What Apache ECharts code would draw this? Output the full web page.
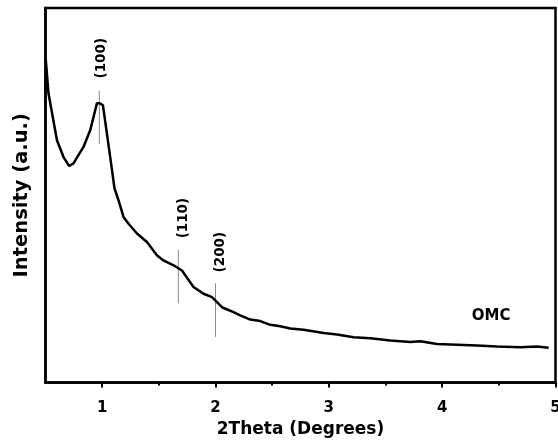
<!DOCTYPE html>
<html>
<head>
<meta charset="utf-8">
<script src="https://cdn.jsdelivr.net/npm/echarts@6/dist/echarts.min.js"></script>
<style>
html,body{margin:0;padding:0;background:#fff;}
#c{width:558px;height:441px;}
</style>
</head>
<body>
<div id="c"></div>
<script>
// 2Theta (degrees)
var twoTheta = [0.503,0.526,0.601,0.659,0.709,0.747,0.835,0.895,0.954,0.983,1.007,1.071,1.109,1.144,1.188,1.233,1.307,1.395,1.483,1.541,1.630,1.704,1.806,1.894,1.969,2.057,2.159,2.218,2.307,2.395,2.483,2.571,2.660,2.777,2.954,3.072,3.218,3.366,3.542,3.719,3.807,3.954,4.131,4.308,4.484,4.690,4.837,4.940];
// Intensity (a.u.), arbitrary scale 0-100
var intensity = [86.1,77.3,64.7,60.2,57.8,58.5,62.9,67.4,74.6,74.5,74.0,60.2,51.8,48.7,44.2,42.4,39.8,37.5,34.0,32.6,31.3,29.9,25.5,23.7,22.8,20.1,18.8,17.9,16.8,16.4,15.4,15.0,14.4,14.1,13.2,12.8,12.1,11.8,11.2,10.8,11.0,10.3,10.1,9.9,9.6,9.4,9.6,9.3];

// reflections
var peakNames = ['(100)','(110)','(200)'];
var peakPos = [0.975,1.672,2.0];
var peakLineTop = [77.9,35.4,26.5];
var peakLineBottom = [63.7,21.1,12.2];
var peakLabelX = [0.996,1.716,2.040];
var peakLabelY = [86.6,43.9,34.8];

var sampleName = 'OMC';
var sampleLabelPos = [4.432,17.8];

var xTickValues = [1,2,3,4,5];
var xMinorTickValues = [1.5,2.5,3.5,4.5];

var FONT = 'DejaVu Sans';

var series = [];
series.push({
  type:'line',
  data: twoTheta.map(function(x,i){return [x,intensity[i]];}),
  showSymbol:false,
  symbol:'none',
  lineStyle:{color:'#000',width:2.5},
  z:5,
  silent:true
});
peakPos.forEach(function(p,i){
  series.push({
    type:'line',
    data:[[p,peakLineTop[i]],[p,peakLineBottom[i]]],
    symbol:'none',
    lineStyle:{color:'#8a8a8a',width:1},
    z:3,
    silent:true
  });
});

var chart = echarts.init(document.getElementById('c'),null,{renderer:'canvas'});
chart.setOption({
  animation:false,
  backgroundColor:'#fff',
  grid:{left:45.5,right:2.5,top:8,bottom:58.5,show:true,borderColor:'#000',borderWidth:2.5,containLabel:false,outerBoundsMode:'none'},
  xAxis:[{
    type:'value',min:0.5,max:5,
    name:'2Theta (Degrees)',nameLocation:'middle',nameGap:39,
    nameTextStyle:{fontFamily:FONT,fontWeight:'bold',fontSize:17,color:'#000'},
    axisLine:{show:true,lineStyle:{color:'#000',width:2.5}},
    axisTick:{show:true,customValues:xTickValues,length:5,lineStyle:{color:'#000',width:2}},
    axisLabel:{show:true,customValues:xTickValues,margin:18,fontFamily:FONT,fontWeight:'bold',fontSize:15,color:'#000',hideOverlap:false},
    splitLine:{show:false}
  },{
    type:'value',min:0.5,max:5,position:'bottom',
    axisLine:{show:false},
    axisTick:{show:true,customValues:xMinorTickValues,length:3,lineStyle:{color:'#000',width:2}},
    axisLabel:{show:false},
    splitLine:{show:false}
  }],
  yAxis:{
    type:'value',min:0,max:100,
    name:'Intensity (a.u.)',nameLocation:'middle',nameGap:14,
    nameTextStyle:{fontFamily:FONT,fontWeight:'bold',fontSize:19.5,color:'#000'},
    axisLine:{show:true,lineStyle:{color:'#000',width:2.5}},
    axisTick:{show:false},
    axisLabel:{show:false},
    splitLine:{show:false}
  },
  series:series
});

// text annotations placed through the chart's own coordinate system
var texts = [];
peakNames.forEach(function(n,i){
  var p = chart.convertToPixel({gridIndex:0},[peakLabelX[i],peakLabelY[i]]);
  texts.push({
    type:'text', x:p[0], y:p[1], rotation:Math.PI/2, z:10,
    style:{text:n,fill:'#000',font:'bold 13.5px "DejaVu Sans"',align:'center',verticalAlign:'middle'}
  });
});
var sp = chart.convertToPixel({gridIndex:0},sampleLabelPos);
texts.push({
  type:'text', x:sp[0], y:sp[1], z:10,
  style:{text:sampleName,fill:'#000',font:'bold 15px "DejaVu Sans"',align:'center',verticalAlign:'middle'}
});
chart.setOption({graphic:{elements:texts}});
</script>
</body>
</html>
